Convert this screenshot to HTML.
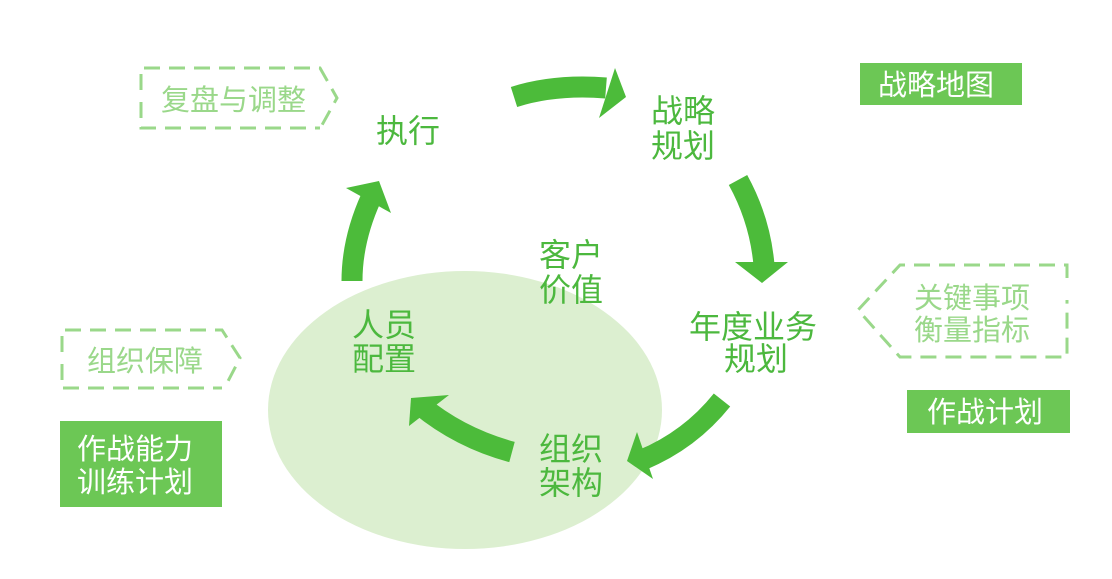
<!DOCTYPE html>
<html><head><meta charset="utf-8"><style>
html,body{margin:0;padding:0;background:#fff;}
svg{display:block;}
text{font-family:"Liberation Sans","Noto Sans CJK SC",sans-serif;}
</style></head><body>
<svg width="1112" height="579" viewBox="0 0 1112 579" xmlns="http://www.w3.org/2000/svg">
<ellipse cx="465" cy="410" rx="197" ry="139" fill="#dcefd0"/>
<g fill="none" stroke="#4cbb3a" stroke-width="21">
<path d="M514 97 Q555 84 606 88"/>
<path d="M738 180 Q760 220 764 265"/>
<path d="M722 400 Q690 440 642 460"/>
<path d="M512 452 Q460 438 420 405"/>
<path d="M352 281 Q352 240 371 198"/>
</g>
<g fill="#4cbb3a">
<polygon points="615,68 626,97 599,118"/>
<polygon points="735,262 788,262 762,283"/>
<polygon points="637,432 627,461 653,479"/>
<polygon points="449,395 409,426 411,398"/>
<polygon points="346,188 379,181 391,213"/>
</g>
<g fill="none" stroke="#9ad88a" stroke-width="3" stroke-dasharray="16,9">
<path d="M141 90 V68 H320 L337 98 L322 125 M141 102 V128 H320"/>
<path d="M62 352 V330 H222 L240 358 L225 387 M62 364 V388 H222"/>
<path d="M1067 278 V265 H900 L858 310 L900 357 H1067 V300"/>
</g>
<g fill="#9ad88a" font-size="29">
<text x="161" y="110">复盘与调整</text>
<text x="87" y="371">组织保障</text>
<text x="914" y="308">关键事项</text>
<text x="914" y="340">衡量指标</text>
</g>
<g fill="#6cc755">
<rect x="860" y="63" width="162" height="42"/>
<rect x="907" y="390" width="163" height="43"/>
<rect x="60" y="421" width="162" height="86"/>
</g>
<g fill="#fff" font-size="29">
<text x="878" y="95">战略地图</text>
<text x="927" y="422">作战计划</text>
<text x="77" y="459">作战能力</text>
<text x="77" y="492">训练计划</text>
</g>
<g fill="#4cb83e" font-size="32">
<text x="376" y="142">执行</text>
<text x="651" y="122">战略</text>
<text x="651" y="157">规划</text>
<text x="539" y="266">客户</text>
<text x="539" y="301">价值</text>
<text x="352" y="336">人员</text>
<text x="352" y="370">配置</text>
<text x="689" y="338">年度业务</text>
<text x="724" y="370">规划</text>
<text x="539" y="460">组织</text>
<text x="539" y="494">架构</text>
</g>
</svg>
</body></html>
